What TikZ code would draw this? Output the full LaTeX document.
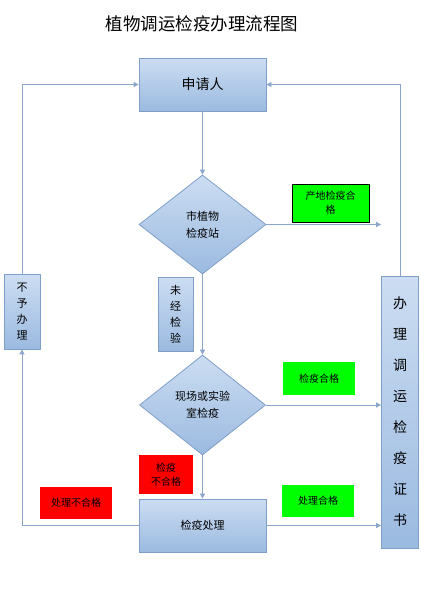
\documentclass[tikz,border=0pt]{standalone}
\usepackage{fontspec}
\newfontfamily\cjk{Noto Sans CJK SC}
\usetikzlibrary{arrows.meta,shapes.geometric}
\definecolor{boxtop}{HTML}{CCDDF2}
\definecolor{boxbot}{HTML}{9BBAE0}
\definecolor{boxline}{HTML}{7F9FC8}
\definecolor{conn}{HTML}{8AA6CC}
\definecolor{fgreen}{HTML}{00FF00}
\definecolor{fred}{HTML}{FF0000}
\begin{document}
\begin{tikzpicture}[x=1pt,y=-1pt,
  bluebox/.style={draw=boxline, line width=0.8pt, top color=boxtop, bottom color=boxbot, inner sep=0pt, align=center, text=black},
  bluediamond/.style={bluebox, diamond, aspect=1.27},
  tag/.style={draw=black, line width=0.6pt, inner sep=0pt, align=center, font=\cjk\fontsize{10}{14}\selectfont},
  conn/.style={draw=conn, line width=0.9pt, -{Triangle[length=5pt,width=5pt]}}
]
\useasboundingbox (0,0) rectangle (430,597);
\node[font=\cjk\fontsize{17.5}{19}\selectfont] (title) at (202,24) {植物调运检疫办理流程图};
\node[bluebox, minimum width=127pt, minimum height=53pt, font=\cjk\fontsize{14}{16}\selectfont] (apply) at (202.5,84.5) {申请人};
\node[bluediamond, minimum width=127pt, minimum height=99pt, font=\cjk\fontsize{11}{17}\selectfont] (d1) at (202.5,224.5) {市植物\\检疫站};
\node[tag, fill=fgreen, minimum width=77pt, minimum height=38pt] (g1) at (330.5,203) {产地检疫合\\格};
\node[bluebox, minimum width=36pt, minimum height=75pt, font=\cjk\fontsize{11}{16}\selectfont] (nogo) at (22,311.5) {不\\予\\办\\理};
\node[bluebox, minimum width=35pt, minimum height=74pt, font=\cjk\fontsize{11}{16}\selectfont] (untested) at (175.5,314) {未\\经\\检\\验};
\node[bluediamond, minimum width=126pt, minimum height=100pt, font=\cjk\fontsize{11}{17}\selectfont] (d2) at (202.5,405) {现场或实验\\室检疫};
\node[tag, fill=fgreen, draw=none, minimum width=72pt, minimum height=33pt] (g2) at (319,378.5) {检疫合格};
\node[tag, fill=fred, draw=none, minimum width=54pt, minimum height=39pt] (r1) at (166,474.5) {检疫\\不合格};
\node[bluebox, minimum width=127pt, minimum height=53pt, font=\cjk\fontsize{11}{14}\selectfont] (proc) at (202.5,525.5) {检疫处理};
\node[tag, fill=fred, draw=none, minimum width=72pt, minimum height=32pt] (r2) at (76,503) {处理不合格};
\node[tag, fill=fgreen, draw=none, minimum width=72pt, minimum height=32pt] (g3) at (318,501) {处理合格};
\node[bluebox, minimum width=37pt, minimum height=272pt, font=\cjk\fontsize{14}{31}\selectfont] (cert) at (400,412) {办\\理\\调\\运\\检\\疫\\证\\书};
\draw[conn] (apply.south) -- (d1.north);
\draw[conn] (d1.south) -- (d2.north);
\draw[conn] (d2.south) -- (proc.north);
\draw[conn] (d1.east) -- (cert.west |- d1.east);
\draw[conn] (d2.east) -- (cert.west |- d2.east);
\draw[conn] (proc.east) -- (cert.west |- proc.east);
\draw[conn] (proc.west) -| (nogo.south);
\draw[conn] (nogo.north) |- (apply.west);
\draw[conn] (cert.north) |- (apply.east);
\end{tikzpicture}
\end{document}
